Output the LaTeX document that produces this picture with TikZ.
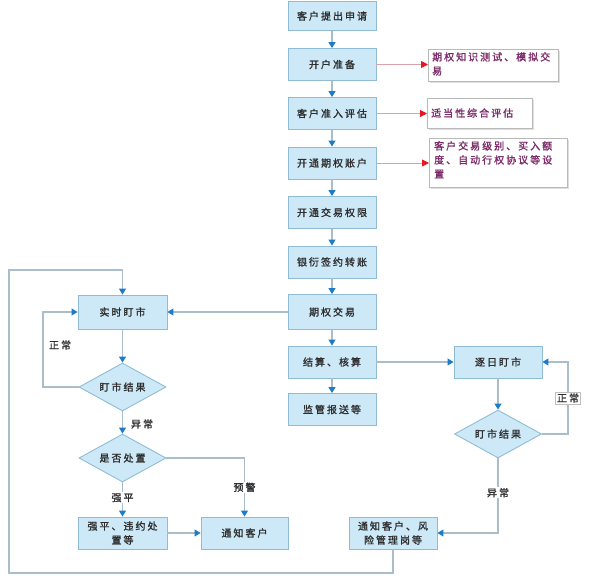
\documentclass[tikz,border=0pt]{standalone}
\usepackage{fontspec}
\newfontfamily\cjk[LetterSpace=20,FakeBold=1.3]{Noto Sans CJK SC}
\usetikzlibrary{arrows.meta,shapes.geometric}
\definecolor{boxfill}{HTML}{CDE9F8}
\definecolor{boxline}{HTML}{8FBCD4}
\definecolor{conncol}{HTML}{A9BDCB}
\definecolor{tipblue}{HTML}{1E7BC6}
\definecolor{redtip}{HTML}{E8141E}
\definecolor{pinkline}{HTML}{D9A3AE}
\definecolor{purpletext}{HTML}{7A2A68}
\definecolor{textdark}{HTML}{2E2E2E}
\tikzset{
  stepbox/.style={draw=boxline, fill=boxfill, line width=0.9pt, minimum width=88pt, minimum height=32pt, inner sep=0pt, text=textdark, align=center},
  decbox/.style={draw=boxline, fill=boxfill, line width=0.9pt, diamond, aspect=1.8, minimum width=87pt, minimum height=48pt, inner sep=0pt, text=textdark},
  sidebox/.style={draw=gray!55, fill=white, line width=0.7pt, inner sep=0pt, anchor=north west, text=purpletext},
  conn/.style={draw=conncol, line width=1.1pt, -{Triangle[width=7pt,length=6pt,color=tipblue]}},
  plain/.style={draw=conncol, line width=1.1pt},
  sideconn/.style={draw=pinkline, line width=0.9pt, -{Triangle[width=7pt,length=7pt,color=redtip]}},
  lbl/.style={fill=white, inner sep=1pt, text=textdark},
}
\begin{document}
\begin{tikzpicture}[x=1pt,y=-1pt, font=\cjk\fontsize{10}{14}\selectfont]
\useasboundingbox (0,0) rectangle (590,582);
% main column
\node[stepbox, minimum height=29pt] (b1) at (332,16) {客户提出申请};
\node[stepbox] (b2) at (332,64.5) {开户准备};
\node[stepbox] (b3) at (332,113.5) {客户准入评估};
\node[stepbox] (b4) at (332,163) {开通期权账户};
\node[stepbox] (b5) at (332,212.5) {开通交易权限};
\node[stepbox] (b6) at (332,262) {银衍签约转账};
\node[stepbox, minimum height=35pt] (b7) at (332,312) {期权交易};
\node[stepbox] (b8) at (332,362) {结算、核算};
\node[stepbox] (b9) at (332,409.5) {监管报送等};
% side boxes
\begin{scope}
\fill[gray!25] (430,51) rectangle (560,83);
\node[sidebox, minimum width=130pt, minimum height=32pt] (s1) at (428,49) {};
\node[anchor=north west, text=purpletext, align=left, inner sep=0pt] (s1t) at (432,52) {期权知识测试、模拟交\\易};
\fill[gray!25] (429,100) rectangle (534,130);
\node[sidebox, minimum width=105pt, minimum height=30pt] (s2) at (427,98) {};
\node[anchor=west, text=purpletext, inner sep=0pt] (s2t) at (431,113) {适当性综合评估};
\fill[gray!25] (431,140) rectangle (569,189);
\node[sidebox, minimum width=138pt, minimum height=49pt] (s3) at (429,138) {};
\node[anchor=north west, text=purpletext, align=left, inner sep=0pt] (s3t) at (434,141) {客户交易级别、买入额\\度、自动行权协议等设\\置};
\end{scope}
% main column arrows
\draw[conn] (b1) -- (b2);
\draw[conn] (b2) -- (b3);
\draw[conn] (b3) -- (b4);
\draw[conn] (b4) -- (b5);
\draw[conn] (b5) -- (b6);
\draw[conn] (b6) -- (b7);
\draw[conn] (b7) -- (b8);
\draw[conn] (b8) -- (b9);
% side arrows
\draw[sideconn] (b2.east) -- (b2.east -| s1.west);
\draw[sideconn] (b3.east) -- (b3.east -| s2.west);
\draw[sideconn] (b4.east) -- (b4.east -| s3.west);
% left part
\node[stepbox, minimum height=34pt, minimum width=89pt] (rt) at (122.5,312) {实时盯市};
\node[decbox] (d1) at (122.5,387) {盯市结果};
\node[decbox] (d2) at (122.5,458) {是否处置};
\node[stepbox, minimum width=89pt] (qp) at (122.5,533) {强平、违约处\\置等};
\node[stepbox, minimum width=87pt] (tz) at (244.5,533) {通知客户};
\coordinate (c1) at (43,387);
\draw[conn] (b7.west) -- (rt.east);
\draw[conn] (rt) -- (d1);
\draw[conn] (d1.west) -- (c1) |- (rt.west);
\node[text=textdark] (lz1) at (60,345) {正常};
\draw[conn] (d1.south) -- (d2.north);
\node[text=textdark] (ly1) at (142,424) {异常};
\draw[conn] (d2.south) -- (qp.north) node[lbl, pos=0.45] (lq) {强平};
\draw[conn] (d2.east) -| (tz.north) node[lbl, pos=0.75] (lw) {预警};
\draw[conn] (qp.east) -- (tz.west);
% right part
\node[stepbox] (zr) at (498,362) {逐日盯市};
\node[decbox] (d3) at (498,434) {盯市结果};
\node[stepbox] (tf) at (393,533) {通知客户、风\\险管理岗等};
\coordinate (c2) at (568,434);
\draw[conn] (b8.east) -- (zr.west);
\draw[conn] (zr) -- (d3);
\draw[conn] (d3.east) -- (c2) |- (zr.east);
\node[fill=white, draw=gray!50, line width=0.5pt, inner sep=1.5pt, text=textdark] (lz2) at (568,398) {正常};
\draw[conn] (d3.south) |- (tf.east) node[lbl, pos=0.23] (ly2) {异常};
% big loop
\coordinate (c3) at (393,573);
\coordinate (c4) at (9,573);
\coordinate (c5) at (9,270);
\coordinate (c6) at (122.5,270);
\draw[conn] (tf.south) -- (c3) -- (c4) -- (c5) -- (c6) -- (rt.north);
\end{tikzpicture}
\end{document}
